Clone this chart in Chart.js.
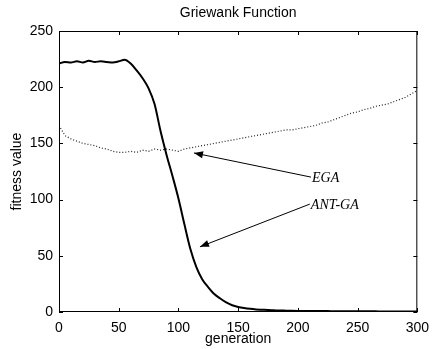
<!DOCTYPE html>
<html>
<head>
<meta charset="utf-8">
<script src="https://cdn.jsdelivr.net/npm/chart.js@4"></script>
<style>
  html, body { margin: 0; padding: 0; background: #fff; }
  #wrap { width: 437px; height: 349px; }
</style>
</head>
<body>
<div id="wrap"><canvas id="chart" width="437" height="349"></canvas></div>
<script>
// generation axis, sampled every 5 generations
const generations = [
  0, 5, 10, 15, 20, 25, 30, 35, 40, 45, 50, 55, 60, 65, 70, 75, 80, 85, 90, 95,
  100, 105, 110, 115, 120, 125, 130, 135, 140, 145, 150, 155, 160, 165, 170, 175, 180, 185, 190, 195,
  200, 205, 210, 215, 220, 225, 230, 235, 240, 245, 250, 255, 260, 265, 270, 275, 280, 285, 290, 295, 300
];

const antGA = [
  221, 222.5, 222, 223, 222, 223.5, 222.5, 223, 222.5, 222, 223, 224.5, 221, 215, 208, 199, 185, 161, 140, 121,
  101, 78, 56, 40, 29, 22, 16, 12, 8.5, 6, 4.5, 3.5, 2.8, 2.3, 2, 1.7, 1.5, 1.3, 1.2, 1.1,
  1, 0.9, 0.9, 0.8, 0.8, 0.8, 0.7, 0.7, 0.7, 0.6, 0.6, 0.6, 0.6, 0.6, 0.5, 0.5, 0.5, 0.5, 0.5, 0.5, 0.5
];

const ega = [
  166, 157, 154, 152, 150, 149, 148, 146, 145, 143, 142, 142, 143, 142, 144, 143, 145, 144, 145, 144,
  143, 145, 146, 147, 148, 149, 150, 151, 152, 153, 154, 155, 156, 157, 158, 159, 160, 161, 162, 162,
  163, 164, 165, 166, 168, 169, 171, 173, 175, 177, 178, 180, 181, 183, 184, 185, 187, 189, 191, 194, 197
];

const yTicks = [0, 50, 100, 150, 200, 250];
const xTicks = [0, 50, 100, 150, 200, 250, 300];

// callouts: text end of the line -> arrow tip, in data units
const callouts = [
  { text: 'EGA', from: [211, 120], to: [113, 141.5] },
  { text: 'ANT-GA', from: [210, 96], to: [118, 58] }
];

const toPoints = vals => vals.map((v, i) => ({ x: generations[i], y: v }));

const frame = {
  id: 'frame',
  afterDatasetsDraw(chart) {
    const { ctx, chartArea: a, scales: { x, y } } = chart;
    ctx.save();
    ctx.strokeStyle = '#000';
    ctx.lineWidth = 1;
    ctx.strokeRect(a.left + 0.5, a.top + 0.5, a.right - a.left - 1, a.bottom - a.top - 1);
    ctx.beginPath();
    const len = 4;
    xTicks.forEach(t => {
      const px = Math.round(x.getPixelForValue(t)) + 0.5;
      ctx.moveTo(px, a.bottom); ctx.lineTo(px, a.bottom - len);
      ctx.moveTo(px, a.top); ctx.lineTo(px, a.top + len);
    });
    yTicks.forEach(t => {
      const py = Math.round(y.getPixelForValue(t)) + 0.5;
      ctx.moveTo(a.left, py); ctx.lineTo(a.left + len, py);
      ctx.moveTo(a.right, py); ctx.lineTo(a.right - len, py);
    });
    ctx.stroke();

    // callout arrows
    ctx.font = 'italic 14px "Liberation Serif", serif';
    ctx.textBaseline = 'middle';
    ctx.fillStyle = '#000';
    callouts.forEach(c => {
      const x0 = x.getPixelForValue(c.from[0]), y0 = y.getPixelForValue(c.from[1]);
      const x1 = x.getPixelForValue(c.to[0]), y1 = y.getPixelForValue(c.to[1]);
      ctx.beginPath();
      ctx.moveTo(x0, y0); ctx.lineTo(x1, y1);
      ctx.stroke();
      const ang = Math.atan2(y1 - y0, x1 - x0);
      const h = 9, w = 3.5;
      ctx.beginPath();
      ctx.moveTo(x1, y1);
      ctx.lineTo(x1 - h * Math.cos(ang) + w * Math.sin(ang), y1 - h * Math.sin(ang) - w * Math.cos(ang));
      ctx.lineTo(x1 - h * Math.cos(ang) - w * Math.sin(ang), y1 - h * Math.sin(ang) + w * Math.cos(ang));
      ctx.closePath();
      ctx.fill();
      ctx.fillText(c.text, x0 + 1, y0 + 1);
    });
    ctx.restore();
  }
};

new Chart(document.getElementById('chart'), {
  type: 'line',
  data: {
    datasets: [
      {
        label: 'ANT-GA',
        data: toPoints(antGA),
        borderColor: '#000',
        borderWidth: 2,
        pointRadius: 0,
        cubicInterpolationMode: 'monotone'
      },
      {
        label: 'EGA',
        data: toPoints(ega),
        borderColor: '#222',
        borderWidth: 1.2,
        borderDash: [1, 2],
        pointRadius: 0,
        tension: 0
      }
    ]
  },
  options: {
    responsive: false,
    animation: false,
    layout: { padding: { left: 0, right: 19, top: 0, bottom: 0 } },
    plugins: {
      legend: { display: false },
      tooltip: { enabled: false },
      title: {
        display: true,
        text: 'Griewank Function',
        fullSize: false,
        color: '#000',
        font: { family: '"Liberation Sans", Arial, sans-serif', size: 14, weight: 'normal', lineHeight: 1.2 },
        padding: { top: 4.5, bottom: 9.7 }
      }
    },
    scales: {
      x: {
        type: 'linear',
        min: 0,
        max: 300,
        afterBuildTicks: s => { s.ticks = xTicks.map(v => ({ value: v })); },
        afterFit: s => { s.height = 37; },
        grid: { display: false, drawTicks: false },
        border: { display: false },
        ticks: {
          color: '#000',
          padding: 8,
          font: { family: '"Liberation Sans", Arial, sans-serif', size: 14 }
        },
        title: {
          display: true,
          text: 'generation',
          color: '#000',
          padding: { top: 1, bottom: 1 },
          font: { family: '"Liberation Sans", Arial, sans-serif', size: 14, lineHeight: 1.2 }
        }
      },
      y: {
        min: 0,
        max: 250,
        afterBuildTicks: s => { s.ticks = yTicks.map(v => ({ value: v })); },
        afterFit: s => { s.width = 59; },
        grid: { display: false, drawTicks: false },
        border: { display: false },
        ticks: {
          color: '#000',
          padding: 6,
          font: { family: '"Liberation Sans", Arial, sans-serif', size: 14 }
        },
        title: {
          display: true,
          text: 'fitness value',
          color: '#000',
          padding: { top: 9, bottom: 9 },
          font: { family: '"Liberation Sans", Arial, sans-serif', size: 14, lineHeight: 1.2 }
        }
      }
    }
  },
  plugins: [frame]
});
</script>
</body>
</html>
